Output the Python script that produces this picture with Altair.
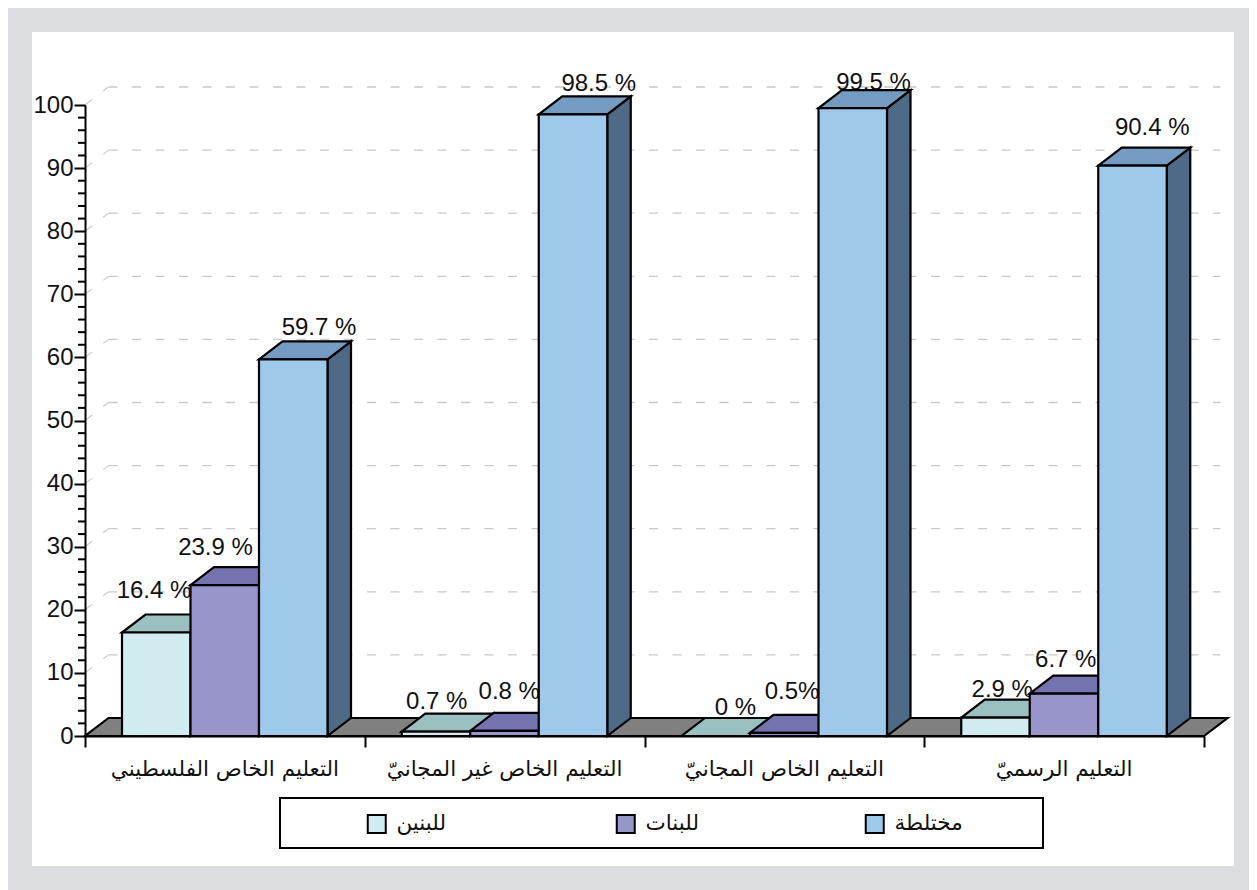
import altair as alt
import pandas as pd

# ---------- chart values ----------
groups = ["التعليم الخاص الفلسطيني", "التعليم الخاص غير المجانيّ", "التعليم الخاص المجانيّ", "التعليم الرسميّ"]
series = ["للبنين", "للبنات", "مختلطة"]
boys = [16.4, 0.7, 0.0, 2.9]
girls = [23.9, 0.8, 0.5, 6.7]
mixed = [59.7, 98.5, 99.5, 90.4]
value_labels = [
    ["16.4 %", "0.7 %", "0 %", "2.9 %"],
    ["23.9 %", "0.8 %", "0.5%", "6.7 %"],
    ["59.7 %", "98.5 %", "99.5 %", "90.4 %"],
]
y_ticks = list(range(0, 101, 10))
y_minor = [v for v in range(0, 101, 2) if v % 10]

# ---------- styles and geometry ----------
front = ["#d2edf2", "#9795c9", "#9fc9eb"]
top_c = ["#9bc0c0", "#7572b0", "#749cc2"]
side_c = ["#7fa0a0", "#5f5d96", "#4e6a87"]
PX, PY = 279.75, 6.31
BAR = 68.5 / PX
GAP = 37 / PX
DX = 23.5 / PX
DY = 18 / PY
SW = 2.2
label_nudge_x = [[32, 35, 54, 41], [25, 39, 42, 36], [60, 60, 55, 54]]
label_nudge_y = [[23.5, 11.6, 10, 10], [19, 21, 23, 16], [13, 12.5, 7, 19.5]]

xs = alt.Scale(domain=[0, 4], nice=False, zero=False)
ys = alt.Scale(domain=[0, 100], nice=False, zero=False)
X = lambda f: alt.X(f, type="quantitative", scale=xs, title=None)
Y = lambda f: alt.Y(f, type="quantitative", scale=ys, title=None)
values = [boys, girls, mixed]

panel = alt.Chart(pd.DataFrame({"a": [0]})).mark_rect(fill="white").encode(
    x=alt.value(-53), x2=alt.value(1149), y=alt.value(-73), y2=alt.value(761))

axes = alt.Chart(pd.DataFrame({"x": [0.0], "y": [0.0]})).mark_point(opacity=0).encode(
    x=alt.X("x:Q", scale=xs, title=None, axis=alt.Axis(
        values=[0, 1, 2, 3, 4], labels=False, grid=False, tickSize=11, tickWidth=2, tickColor="black",
        domainWidth=2, domainColor="black", zindex=1)),
    y=alt.Y("y:Q", scale=ys, title=None, axis=alt.Axis(
        values=y_ticks, grid=False, tickSize=11, tickWidth=2, tickColor="black", domainWidth=2, zindex=1,
        domainColor="black", labelFont="Liberation Sans", labelFontSize=24, labelColor="#111111", labelPadding=1)),
)

minor = alt.Chart(pd.DataFrame({"y": y_minor})).mark_rule(color="black", strokeWidth=2).encode(
    x=alt.value(0), x2=alt.value(-7), y=Y("y"))

grid_rows = [dict(x=DX, x2=4 + DX - 7 / PX, y=v + DY) for v in y_ticks[1:]]
grid_h = alt.Chart(pd.DataFrame(grid_rows)).mark_rule(color="#c9c9c9", strokeWidth=1.3, strokeDash=[9, 14.5]).encode(
    x=X("x"), x2="x2:Q", y=Y("y"))
diag_rows = []
for v in y_ticks[1:]:
    diag_rows += [dict(v=v, x=0.0, y=float(v)), dict(v=v, x=DX, y=v + DY)]
grid_d = alt.Chart(pd.DataFrame(diag_rows)).mark_line(color="#c9c9c9", strokeWidth=1.1, strokeDash=[9, 14]).encode(
    x=X("x"), y=Y("y"), detail="v:N")

floor_df = pd.DataFrame([
    dict(x=0.0, lo=0.0, hi=0.0), dict(x=DX, lo=0.0, hi=DY),
    dict(x=4.0, lo=0.0, hi=DY), dict(x=4 + DX, lo=DY, hi=DY)])
floor = alt.Chart(floor_df).mark_area(fill="#808080", stroke="black", strokeWidth=SW).encode(
    x=X("x"), y=Y("lo"), y2="hi:Q")

label_rows = []
for s in range(3):
    for g in range(4):
        label_rows.append(dict(
            t=value_labels[s][g],
            x=g + GAP + s * BAR + label_nudge_x[s][g] / PX,
            y=values[s][g] + DY + label_nudge_y[s][g] / PY))
labels = alt.Chart(pd.DataFrame(label_rows)).mark_text(
    font="Liberation Sans", fontSize=24, color="#111111", baseline="middle").encode(
    x=X("x"), y=Y("y"), text="t:N")

bars = []
for s in range(3):
    side_rows, top_rows, front_rows = [], [], []
    for g in range(4):
        v = values[s][g]
        x0 = g + GAP + s * BAR
        x1 = x0 + BAR
        side_rows += [dict(b=g, x=x1, lo=0.0, hi=v), dict(b=g, x=x1 + DX, lo=DY, hi=v + DY)]
        top_rows += [dict(b=g, x=x0, lo=v, hi=v), dict(b=g, x=x0 + DX, lo=v, hi=v + DY),
                     dict(b=g, x=x1, lo=v, hi=v + DY), dict(b=g, x=x1 + DX, lo=v + DY, hi=v + DY)]
        front_rows.append(dict(x=x0, x2=x1, v=v, s=series[s]))
    bars.append(alt.Chart(pd.DataFrame(side_rows)).mark_area(fill=side_c[s], stroke="black", strokeWidth=SW).encode(
        x=X("x"), y=Y("lo"), y2="hi:Q", detail="b:N"))
    bars.append(alt.Chart(pd.DataFrame(top_rows)).mark_area(fill=top_c[s], stroke="black", strokeWidth=SW).encode(
        x=X("x"), y=Y("lo"), y2="hi:Q", detail="b:N"))
    bars.append(alt.Chart(pd.DataFrame(front_rows)).mark_rect(stroke="black", strokeWidth=SW).encode(
        x=X("x"), x2="x2:Q", y=Y("v"), y2=alt.datum(0),
        fill=alt.Fill("s:N", scale=alt.Scale(domain=series, range=front), legend=alt.Legend(
            title=None, orient="none", legendX=281, legendY=708, direction="horizontal", columns=3,
            gridAlign="all", symbolType="square", symbolSize=324, symbolStrokeColor="black",
            symbolStrokeWidth=2, symbolOpacity=1, labelFont="DejaVu Sans", labelFontSize=21.5,
            labelColor="#111111", labelOffset=9, columnPadding=147, padding=0))))

cat_df = pd.DataFrame({"t": groups, "x": [i + 0.5 for i in range(4)]})
cats = alt.Chart(cat_df).mark_text(font="DejaVu Sans", fontSize=21.5, color="#111111", baseline="middle").encode(
    x=X("x"), y=alt.value(665), text="t:N")

box = alt.Chart(pd.DataFrame({"a": [0]})).mark_rect(fill="white", stroke="black", strokeWidth=2).encode(
    x=alt.value(195), x2=alt.value(958), y=alt.value(693), y2=alt.value(743))

chart = alt.layer(axes, panel, grid_d, grid_h, floor, minor, labels, *bars, cats, box).properties(
    width=1119, height=631,
    padding={"left": 77, "top": 97, "right": 45, "bottom": 154},
    autosize=alt.AutoSizeParams(type="none"),
    background="#dcdde0",
).configure_view(stroke=None)

chart.save("out.html", embed_options={"renderer": "svg", "actions": False})
